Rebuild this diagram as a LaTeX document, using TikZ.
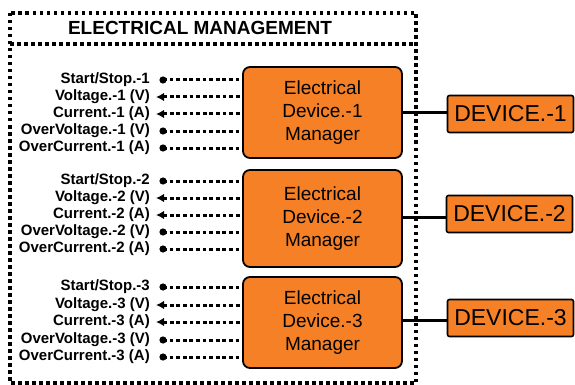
\documentclass[tikz,border=0pt]{standalone}
\usepackage{fontspec}
\setmainfont{Liberation Sans}
\usetikzlibrary{arrows.meta}
\definecolor{mgrorange}{RGB}{245,128,38}
\tikzset{
  frame/.style={line width=3.2pt, dash pattern=on 3.5pt off 3.5pt},
  mgr/.style={draw=black, line width=1.8pt, fill=mgrorange, rounded corners=7pt, minimum width=159pt, align=center, font=\fontsize{19}{23}\selectfont, inner sep=0pt},
  dev/.style={draw=black, line width=1.6pt, fill=mgrorange, rounded corners=2pt, minimum width=126pt, minimum height=37pt, font=\fontsize{23}{26}\selectfont, inner sep=0pt},
  lbl/.style={anchor=east, font=\bfseries\fontsize{15}{16}\selectfont, inner sep=0pt},
  sig/.style={line width=3pt, dash pattern=on 3.8pt off 2.8pt},
  link/.style={line width=3pt},
  intip/.style={{Latex[length=8pt,width=8.5pt]}-},
}
\begin{document}
\begin{tikzpicture}[x=1pt,y=-1pt]
\useasboundingbox (0,0) rectangle (575,385);
% frame
\draw[frame] (10,13) rectangle (416,383);
\draw[frame] (10,44) -- (416,44);
\node[font=\bfseries\fontsize{19}{20}\selectfont] (title) at (200,28) {ELECTRICAL MANAGEMENT};
% managers
\node[mgr, minimum height=91pt] (m1) at (322.5,112.5) {Electrical\\Device.-1\\Manager};
\node[mgr, minimum height=97pt] (m2) at (322.5,218.5) {Electrical\\Device.-2\\Manager};
\node[mgr, minimum height=91pt] (m3) at (322.5,322.5) {Electrical\\Device.-3\\Manager};
% devices
\node[dev] (d1) at (510.5,114) {DEVICE.-1};
\node[dev] (d2) at (509.5,214) {DEVICE.-2};
\node[dev] (d3) at (510.5,318) {DEVICE.-3};
\coordinate (c1) at (430,113);
\coordinate (c2) at (430,217);
\coordinate (c3) at (430,320);
\draw[link] (c1 -| m1.east) -- (c1 -| d1.west);
\draw[link] (c2 -| m2.east) -- (c2 -| d2.west);
\draw[link] (c3 -| m3.east) -- (c3 -| d3.west);
% signals
\foreach \g/\ya/\yb/\yc/\yd/\ye in {1/80/97/114/131/148, 2/181/198/215/232/249, 3/287/305/322/340/357}{
  \coordinate (s\g a) at (163,\ya);
  \coordinate (s\g b) at (156,\yb);
  \coordinate (s\g c) at (156,\yc);
  \coordinate (s\g d) at (163,\yd);
  \coordinate (s\g e) at (163,\ye);
  \node[lbl] (l\g a) at (150,\ya) {Start/Stop.-\g};
  \node[lbl] (l\g b) at (150,\yb) {Voltage.-\g\ (V)};
  \node[lbl] (l\g c) at (150,\yc) {Current.-\g\ (A)};
  \node[lbl] (l\g d) at (150,\yd) {OverVoltage.-\g\ (V)};
  \node[lbl] (l\g e) at (150,\ye) {OverCurrent.-\g\ (A)};
  \draw[sig] (s\g a) -- (s\g a -| m\g.west);
  \draw[sig, intip] (s\g b) -- (s\g b -| m\g.west);
  \draw[sig, intip] (s\g c) -- (s\g c -| m\g.west);
  \draw[sig] (s\g d) -- (s\g d -| m\g.west);
  \draw[sig] (s\g e) -- (s\g e -| m\g.west);
  \fill (s\g a) circle (3.6pt);
  \fill (s\g d) circle (3.6pt);
  \fill (s\g e) circle (3.6pt);
}
\end{tikzpicture}
\end{document}
